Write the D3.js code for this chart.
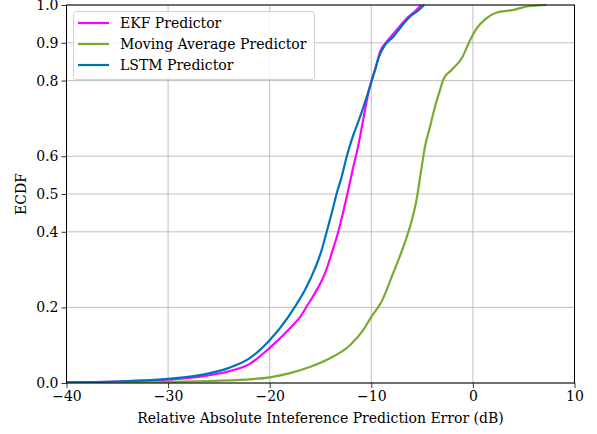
<!DOCTYPE html>
<html>
<head>
<meta charset="utf-8">
<script src="https://cdn.jsdelivr.net/npm/d3@7"></script>
<style>
  body { margin: 0; background: #fff; }
  text { font-family: "DejaVu Serif", serif; fill: #000; }
</style>
</head>
<body>
<svg id="chart" width="597" height="434"></svg>
<script>
// ECDF curves: error (dB) and cumulative probability
var ekfX = [-40, -35, -30, -27, -24, -22, -20, -18, -17, -16.3, -15.54, -14.56, -13.9, -13.25, -12.76, -12.26, -11.77, -11.3, -10.8, -10.3, -9.96, -9.54, -9.14, -8.48, -7.5, -6.5, -5.55, -5.1];
var ekfY = [0.002, 0.004, 0.009, 0.016, 0.031, 0.05, 0.093, 0.145, 0.175, 0.205, 0.238, 0.29, 0.343, 0.4, 0.453, 0.511, 0.572, 0.626, 0.696, 0.766, 0.802, 0.837, 0.876, 0.903, 0.934, 0.965, 0.987, 1.0];

var lstmX = [-40, -35, -30, -27, -24, -22, -20, -18.17, -17.51, -16.53, -15.54, -14.88, -14.39, -13.9, -13.4, -12.91, -12.42, -11.93, -11.3, -10.8, -10.13, -9.63, -9.3, -8.66, -7.83, -7.2, -6.2, -5.4, -4.8];
var lstmY = [0.002, 0.004, 0.011, 0.02, 0.04, 0.065, 0.113, 0.175, 0.202, 0.246, 0.303, 0.352, 0.4, 0.449, 0.502, 0.546, 0.599, 0.643, 0.69, 0.728, 0.784, 0.828, 0.859, 0.894, 0.916, 0.938, 0.969, 0.985, 1.0];

var maX = [-40, -35, -30, -24, -20, -18, -16, -14.1, -12.1, -10.8, -10.0, -9.0, -7.86, -6.85, -6.2, -5.55, -5.04, -4.72, -4.22, -3.73, -3.24, -2.91, -2.1, -1.1, -0.28, 0.37, 1.2, 2.34, 3.98, 5.3, 7.26];
var maY = [0.0, 0.001, 0.003, 0.007, 0.015, 0.026, 0.043, 0.065, 0.1, 0.14, 0.175, 0.215, 0.29, 0.36, 0.413, 0.484, 0.572, 0.625, 0.678, 0.731, 0.775, 0.803, 0.828, 0.859, 0.907, 0.938, 0.962, 0.98, 0.987, 0.996, 1.0];

var seriesNames = ["EKF Predictor", "Moving Average Predictor", "LSTM Predictor"];
var seriesColors = ["#ff00ff", "#77ac30", "#0072bd"];

var xTicks = [-40, -30, -20, -10, 0, 10];
var yTicks = [0.0, 0.2, 0.4, 0.5, 0.6, 0.8, 0.9, 1.0];

var svg = d3.select("#chart");
var pLeft = 66.5, pRight = 574.5, pTop = 5, pBottom = 383;

var x = d3.scaleLinear().domain([-40, 10]).range([pLeft, pRight]);
var y = d3.scaleLinear().domain([0, 1]).range([pBottom, pTop]);

// grid
svg.append("g").selectAll("line").data(xTicks).enter().append("line")
    .attr("x1", d => x(d)).attr("x2", d => x(d))
    .attr("y1", pTop).attr("y2", pBottom)
    .attr("stroke", "#b0b0b0").attr("stroke-width", 0.8);
svg.append("g").selectAll("line").data(yTicks).enter().append("line")
    .attr("x1", pLeft).attr("x2", pRight)
    .attr("y1", d => y(d)).attr("y2", d => y(d))
    .attr("stroke", "#b0b0b0").attr("stroke-width", 0.8);

var line = d3.line().x(d => x(d[0])).y(d => y(d[1])).curve(d3.curveMonotoneX);
svg.append("clipPath").attr("id", "clip").append("rect")
    .attr("x", pLeft).attr("y", pTop - 2).attr("width", pRight - pLeft).attr("height", pBottom - pTop + 2);

var data = [d3.zip(ekfX, ekfY), d3.zip(maX, maY), d3.zip(lstmX, lstmY)];
svg.append("g").attr("clip-path", "url(#clip)").selectAll("path").data(data).enter().append("path")
    .attr("d", line)
    .attr("fill", "none")
    .attr("stroke", (d, i) => seriesColors[i])
    .attr("stroke-width", 2.2)
    .attr("stroke-linejoin", "round");

// axes
var xAxis = svg.append("g").attr("transform", "translate(0," + pBottom + ")")
    .call(d3.axisBottom(x).tickValues(xTicks).tickSize(5).tickPadding(3).tickFormat(d => d < 0 ? "\u2212" + Math.abs(d) : d));
var yAxis = svg.append("g").attr("transform", "translate(" + pLeft + ",0)")
    .call(d3.axisLeft(y).tickValues(yTicks).tickSize(5).tickPadding(3).tickFormat(d3.format(".1f")));
[xAxis, yAxis].forEach(function (a) {
    a.selectAll("text").style("font-size", "14px").style("font-family", "DejaVu Serif");
    a.select(".domain").remove();
    a.selectAll(".tick line").attr("stroke", "#000").attr("stroke-width", 0.8);
});

svg.append("rect").attr("x", pLeft).attr("y", pTop).attr("width", pRight - pLeft).attr("height", pBottom - pTop)
    .attr("fill", "none").attr("stroke", "#000").attr("stroke-width", 1);

svg.append("text").attr("x", (pLeft + pRight) / 2).attr("y", 423)
    .attr("text-anchor", "middle").style("font-size", "14px")
    .text("Relative Absolute Inteference Prediction Error (dB)");
svg.append("text").attr("transform", "translate(26," + y(0.5) + ") rotate(-90)")
    .attr("text-anchor", "middle").style("font-size", "14px")
    .text("ECDF");

// legend
var lg = svg.append("g");
lg.append("rect").attr("x", 73.5).attr("y", 11.5).attr("width", 241).attr("height", 68).attr("rx", 3)
    .attr("fill", "#fff").attr("fill-opacity", 0.8).attr("stroke", "#d0d0d0");
seriesNames.forEach(function (name, i) {
    var cy = 23 + i * 21;
    lg.append("line").attr("x1", 78).attr("x2", 109).attr("y1", cy).attr("y2", cy)
        .attr("stroke", seriesColors[i]).attr("stroke-width", 2.2);
    lg.append("text").attr("x", 120).attr("y", cy + 5).style("font-size", "14px").text(name);
});
</script>
</body>
</html>
